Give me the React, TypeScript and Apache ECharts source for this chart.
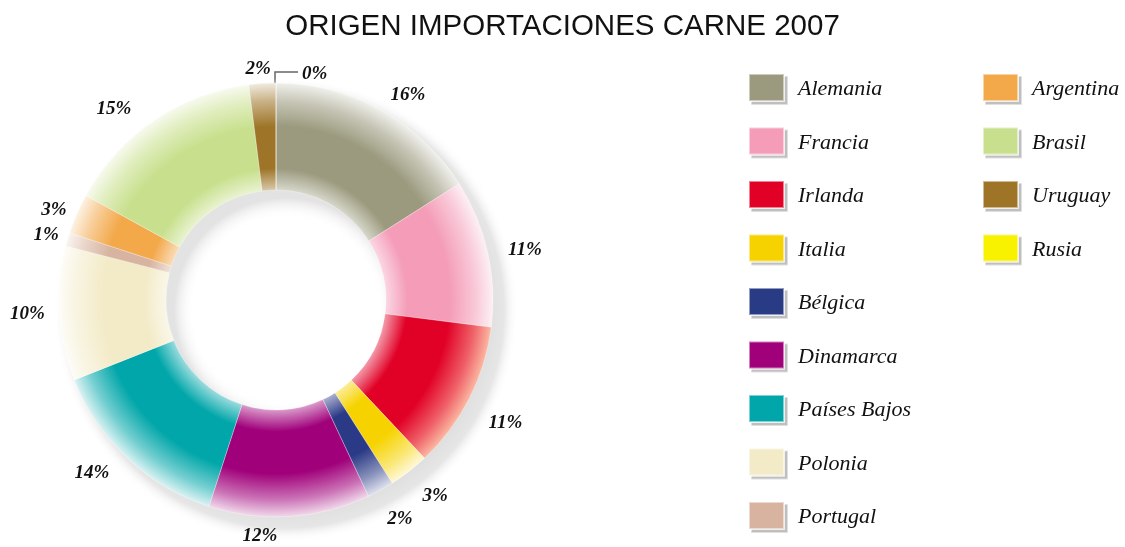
import React, { useEffect, useRef } from "react";
import * as echarts from "echarts";

const TITLE = "ORIGEN IMPORTACIONES CARNE 2007";
const countries = [
  "Alemania", "Francia", "Irlanda", "Italia", "Bélgica", "Dinamarca",
  "Países Bajos", "Polonia", "Portugal", "Argentina", "Brasil", "Uruguay", "Rusia",
];
const shares = [16, 11, 11, 3, 2, 12, 14, 10, 1, 3, 15, 2, 0];
const colors = [
  "#9b9a7e", "#f49cb8", "#e10026", "#f6d300", "#2a3a86", "#a0007a",
  "#00a6a9", "#f3ebc8", "#d8b4a0", "#f3a84a", "#c8e08d", "#9e7528", "#f8f200",
];
const fadeTo = [
  "#ffffff", "#ffffff", "#ffd8b8", "#ffffff", "#ffffff", "#ffffff",
  "#ffffff", "#ffffff", "#ffffff", "#ffffff", "#ffffff", "#ffffff", "#ffffff",
];
const legendCol1 = countries.slice(0, 9);
const legendCol2 = countries.slice(9);
const shadowData = [100];

// layout-only nudges for the outside percentage labels (pixels)
const labelNudge: [number, number][] = [
  [10, 15], [2, 4], [4, 7], [4, -5], [2, -4], [-32, -18],
  [-11, -13], [4, -3], [13, 4], [10, 9], [-20, 17], [-2, 20], [0, 0],
];

const CX = 276, CY = 300, R0 = 110, R1 = 217;

function hexToRgb(h: string) {
  const n = parseInt(h.slice(1), 16);
  return [(n >> 16) & 255, (n >> 8) & 255, n & 255];
}
function mix(a: string, b: string, t: number) {
  const A = hexToRgb(a), B = hexToRgb(b);
  const c = A.map((v, i) => Math.round(v * (1 - t) + B[i] * t));
  return `rgb(${c[0]},${c[1]},${c[2]})`;
}

export default function App() {
  const ref = useRef<HTMLDivElement>(null);
  useEffect(() => {
    if (!ref.current) return;
    const chart = echarts.init(ref.current, null, { renderer: "svg" });
    const inner = R0 / R1;
    const mainData = countries.map((name, i) => ({
      name,
      value: shares[i],
      itemStyle: {
        color: {
          type: "radial",
          x: CX, y: CY, r: R1, global: true,
          colorStops: [
            { offset: 0, color: "#ffffff" },
            { offset: inner, color: mix(colors[i], "#ffffff", 0.6) },
            { offset: inner + 0.1, color: colors[i] },
            { offset: 0.8, color: colors[i] },
            { offset: 0.92, color: mix(colors[i], fadeTo[i], 0.45) },
            { offset: 1, color: mix(colors[i], fadeTo[i], 0.85) },
          ],
        },
      },
    }));
    const labelData = countries.map((name, i) => ({
      name,
      value: shares[i],
      label: { show: shares[i] > 0, offset: labelNudge[i] },
    }));
    const rusiaIdx = countries.indexOf("Rusia");
    const SX = CX + 10, SY = CY + 10, SR = 232;
    const labelFont = {
      fontFamily: "Liberation Serif",
      fontStyle: "italic" as const,
      fontWeight: "bold" as const,
      fontSize: 19,
      color: "#111",
    };
    const legendBase = {
      orient: "vertical" as const,
      top: 73,
      itemWidth: 35,
      itemHeight: 27,
      itemGap: 24.5,
      padding: 0,
      icon: "rect",
      selectedMode: false,
      itemStyle: { shadowColor: "rgba(0,0,0,0.25)", shadowOffsetX: 3, shadowOffsetY: 3, shadowBlur: 1 },
      textStyle: {
        fontFamily: "Liberation Serif",
        fontStyle: "italic" as const,
        fontSize: 22,
        color: "#111",
        padding: [0, 0, 0, 9],
      },
    };
    chart.setOption({
      animation: false,
      title: {
        text: TITLE,
        left: "center",
        top: 4,
        textStyle: { fontFamily: "Liberation Sans", fontWeight: "normal", fontSize: 29.5, color: "#111" },
      },
      legend: [
        {
          ...legendBase,
          left: 748,
          data: legendCol1.map((n) => ({ name: n, itemStyle: { color: colors[countries.indexOf(n)] } })),
        },
        {
          ...legendBase,
          left: 982,
          data: legendCol2.map((n) => ({ name: n, itemStyle: { color: colors[countries.indexOf(n)] } })),
        },
      ],
      series: [
        {
          type: "pie",
          name: "shadow",
          silent: true,
          center: [SX, SY],
          radius: [92, SR],
          label: { show: false },
          labelLine: { show: false },
          data: shadowData.map((v) => ({
            name: "_shadow",
            value: v,
            itemStyle: {
              color: {
                type: "radial",
                x: SX, y: SY, r: SR, global: true,
                colorStops: [
                  { offset: 0, color: "rgba(255,255,255,0)" },
                  { offset: 92 / SR, color: "rgba(255,255,255,0)" },
                  { offset: 112 / SR, color: "#e3e3e3" },
                  { offset: 200 / SR, color: "#dedede" },
                  { offset: 218 / SR, color: "#e6e6e6" },
                  { offset: 1, color: "rgba(255,255,255,0)" },
                ],
              },
            },
          })),
        },
        {
          type: "pie",
          name: "Importaciones",
          center: [CX, CY],
          radius: [R0, R1],
          startAngle: 90,
          clockwise: true,
          label: { show: false },
          labelLine: { show: false },
          itemStyle: { borderColor: "rgba(255,255,255,0.5)", borderWidth: 0.6 },
          emphasis: { disabled: true },
          data: mainData,
        },
        {
          type: "pie",
          name: "labels",
          silent: true,
          center: [CX, CY],
          radius: [232, 268],
          startAngle: 90,
          clockwise: true,
          itemStyle: { color: "rgba(0,0,0,0)" },
          label: { show: true, position: "inside", formatter: "{c}%", ...labelFont },
          labelLine: { show: false },
          data: labelData,
        },
      ],
      graphic: [
        {
          type: "polyline",
          silent: true,
          shape: { points: [[CX - 1, CY - R1], [CX - 1, 72], [298, 72]] },
          style: { stroke: "#666", lineWidth: 1.5, fill: null },
        },
        {
          type: "text",
          silent: true,
          x: 302,
          y: 72,
          style: {
            text: `${shares[rusiaIdx]}%`,
            verticalAlign: "middle",
            align: "left",
            font: "italic bold 19px 'Liberation Serif'",
            fill: "#111",
          },
        },
      ],
    });
    return () => chart.dispose();
  }, []);
  return <div ref={ref} style={{ position: "fixed", left: 0, top: 0, width: 1125, height: 547 }} />;
}
